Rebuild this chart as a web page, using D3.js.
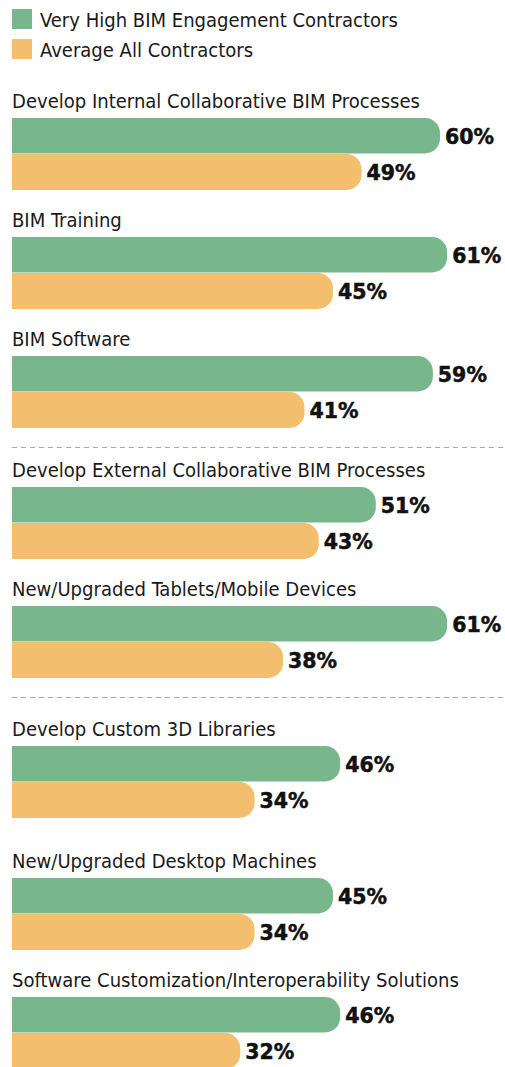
<!DOCTYPE html>
<html>
<head>
<meta charset="utf-8">
<script src="https://cdn.jsdelivr.net/npm/d3@7"></script>
<style>
  html, body { margin: 0; padding: 0; background: #fff; }
  svg { display: block; }
</style>
</head>
<body>
<svg id="chart" width="505" height="1067"></svg>
<script>
// ---- data ----
const categories = [
  "Develop Internal Collaborative BIM Processes",
  "BIM Training",
  "BIM Software",
  "Develop External Collaborative BIM Processes",
  "New/Upgraded Tablets/Mobile Devices",
  "Develop Custom 3D Libraries",
  "New/Upgraded Desktop Machines",
  "Software Customization/Interoperability Solutions"
];
const seriesNames = ["Very High BIM Engagement Contractors", "Average All Contractors"];
const veryHigh = [60, 61, 59, 51, 61, 46, 45, 46];
const average  = [49, 45, 41, 43, 38, 34, 34, 32];

// ---- layout ----
const colors = ["#78b78c", "#f3be6e"];
const left = 12;
const barH = 36;
const firstTop = 118;
const step = 119;
const extraGap = [0, 0, 0, 12, 0, 21, 13, 0]; // extra space before each group
const dividersAfter = [2, 4];                  // dashed line after these groups
const labelFont = "'DejaVu Sans Condensed', 'Liberation Sans Narrow', sans-serif";
const valueFont = "'DejaVu Sans', sans-serif";
const firstLabelWidth = 408;

const svg = d3.select("#chart");
const x = d3.scaleLinear().domain([0, 60]).range([left, 440]);

// group tops
const tops = [];
let acc = firstTop;
categories.forEach((c, i) => { acc += (i === 0 ? 0 : step) + extraGap[i]; tops.push(acc); });

// legend
const leg = svg.append("g");
seriesNames.forEach((s, i) => {
  leg.append("rect").attr("x", 12).attr("y", 9 + i * 30).attr("width", 20).attr("height", 20).attr("fill", colors[i]);
  leg.append("text").attr("class", "lbl").attr("x", 40).attr("y", 27 + i * 30).text(s);
});

// rounded-right bar path
function barPath(x0, y0, w, h, r) {
  r = Math.min(r, w, h / 2);
  return `M${x0},${y0}H${x0 + w - r}A${r},${r} 0 0 1 ${x0 + w},${y0 + r}V${y0 + h - r}A${r},${r} 0 0 1 ${x0 + w - r},${y0 + h}H${x0}Z`;
}

const groups = svg.selectAll("g.grp").data(categories).join("g").attr("class", "grp")
  .attr("transform", (d, i) => `translate(0,${tops[i]})`);

groups.append("text").attr("class", "lbl cat").attr("x", left).attr("y", -10).text(d => d);

[veryHigh, average].forEach((vals, si) => {
  groups.append("path")
    .attr("d", (d, i) => barPath(x(0), si * barH, x(vals[i]) - x(0), barH - (si === 0 ? 0.6 : 0), 15))
    .attr("fill", colors[si]);
  groups.append("text")
    .attr("x", (d, i) => x(vals[i]) + 5)
    .attr("y", si * barH + barH / 2 + 1)
    .attr("dominant-baseline", "central")
    .attr("font-family", valueFont)
    .attr("font-weight", "bold")
    .attr("font-size", 20.5)
    .attr("fill", "#111")
    .attr("stroke", "#111")
    .attr("stroke-width", 0.5)
    .text((d, i) => vals[i] + "%");
});

const labels = svg.selectAll("text.lbl")
  .attr("font-family", labelFont)
  .attr("font-size", 19)
  .attr("fill", "#1a1a1a");

// stretch labels horizontally to match the condensed face of the original
const w0 = svg.select("text.cat").node().getComputedTextLength();
const k = firstLabelWidth / w0;
labels.each(function () {
  const w = this.getComputedTextLength();
  d3.select(this).attr("textLength", w * k).attr("lengthAdjust", "spacingAndGlyphs");
});

// dividers
dividersAfter.forEach(i => {
  const yMid = tops[i] + 2 * barH + 20 - 0.5;
  svg.append("line").attr("x1", left).attr("x2", 505).attr("y1", yMid).attr("y2", yMid)
    .attr("stroke", "#aaa").attr("stroke-width", 1).attr("stroke-dasharray", "5,4");
});
</script>
</body>
</html>
